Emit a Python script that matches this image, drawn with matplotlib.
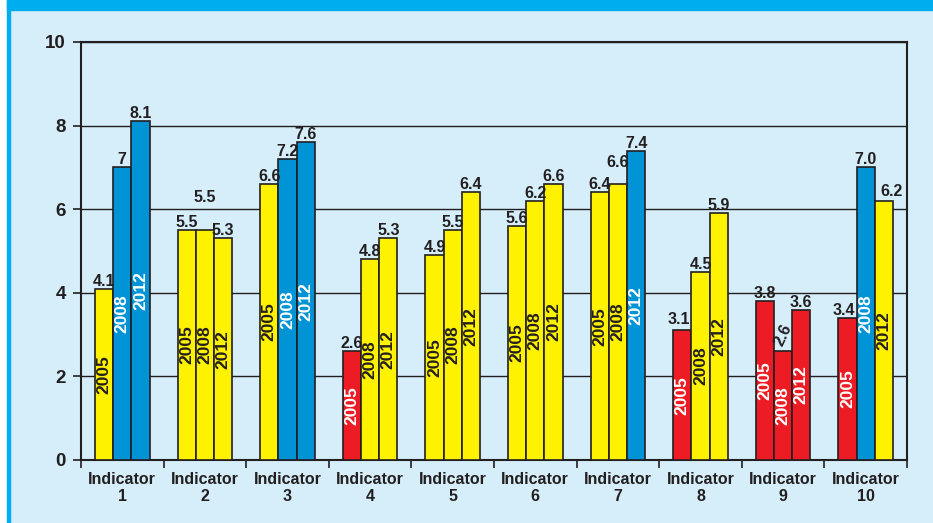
import matplotlib.pyplot as plt
import numpy as np
from matplotlib.patches import Rectangle

# data
categories = [f"Indicator\n{i}" for i in range(1, 11)]
years = ["2005", "2008", "2012"]
v2005 = [4.1, 5.5, 6.6, 2.6, 4.9, 5.6, 6.4, 3.1, 3.8, 3.4]
v2008 = [7.0, 5.5, 7.2, 4.8, 5.5, 6.2, 6.6, 4.5, 2.6, 7.0]
v2012 = [8.1, 5.3, 7.6, 5.3, 6.4, 6.6, 7.4, 5.9, 3.6, 6.2]
l2005 = ["4.1", "5.5", "6.6", "2.6", "4.9", "5.6", "6.4", "3.1", "3.8", "3.4"]
l2008 = ["7", "5.5", "7.2", "4.8", "5.5", "6.2", "6.6", "4.5", "2.6", "7.0"]
l2012 = ["8.1", "5.3", "7.6", "5.3", "6.4", "6.6", "7.4", "5.9", "3.6", "6.2"]
g2005 = ["mid", "mid", "mid", "low", "mid", "mid", "mid", "low", "low", "low"]
g2008 = ["high", "mid", "high", "mid", "mid", "mid", "mid", "mid", "low", "high"]
g2012 = ["high", "mid", "high", "mid", "mid", "mid", "high", "mid", "low", "mid"]

values = [v2005, v2008, v2012]
labels = [l2005, l2008, l2012]
grades = [g2005, g2008, g2012]

fill = {"high": "#0093d6", "mid": "#fff200", "low": "#ed1c24"}
year_color = {"high": "white", "mid": "#231f20", "low": "white"}
dark = "#231f20"
bg = "#d5eefa"
cyan = "#00aeef"

# label nudges (group, series): (dx, dy, rotation)
nudge = {
    (1, 1): (0.0, 0.6, 0),
    (6, 1): (0.0, 0.33, 0),
    (8, 1): (0.0, 0.4, 65),
    (9, 2): (0.09, 0.05, 0),
    (7, 0): (-0.04, 0.08, 0),
    (9, 0): (-0.05, 0.0, 0),
}

plt.rcParams['font.family'] = ['Liberation Sans', 'DejaVu Sans']
plt.rcParams['font.weight'] = 'bold'

fig = plt.figure(figsize=(9.33, 5.23), dpi=100, facecolor=bg)
W, H = 933, 523
# frame decoration
fig.patches.append(Rectangle((0, 0), 7 / W, 1, transform=fig.transFigure, color="white", zorder=0))
fig.patches.append(Rectangle((7 / W, 0), 3 / W, 1, transform=fig.transFigure, color=cyan, zorder=0))
fig.patches.append(Rectangle((7 / W, 1 - 10 / H), 1, 10 / H, transform=fig.transFigure, color=cyan, zorder=0))

ax = fig.add_axes([81 / W, 1 - 460 / H, (907 - 81) / W, (460 - 42) / H])
ax.set_facecolor("none")

x = np.arange(len(categories))
bw = 0.22
for s in range(3):
    xs = x + (s - 1) * bw
    cols = [fill[g] for g in grades[s]]
    ax.bar(xs, values[s], width=bw, color=cols, edgecolor=dark, linewidth=1.2, zorder=3)
    for i in range(len(categories)):
        v = values[s][i]
        g = grades[s][i]
        ax.text(xs[i], v / 2, years[s], rotation=90, ha="center", va="center",
                fontsize=12.5, fontweight="bold", color=year_color[g], zorder=4)
        dx, dy, rot = nudge.get((i, s), (0.0, 0.0, 0))
        if rot:
            ax.text(xs[i] + dx, v + dy, labels[s][i], rotation=rot, ha="center", va="center",
                    fontsize=11.5, fontweight="bold", color=dark, zorder=4)
        else:
            ax.text(xs[i] + dx, v + dy, labels[s][i], ha="center", va="bottom",
                    fontsize=11.5, fontweight="bold", color=dark, zorder=4)

ax.set_xlim(-0.5, len(categories) - 0.5)
ax.set_ylim(0, 10)
ax.set_yticks([0, 2, 4, 6, 8, 10])
ax.yaxis.grid(True, color=dark, linewidth=1.0, zorder=1)
ax.set_axisbelow(True)

ax.set_xticks(x)
ax.set_xticklabels(categories, fontsize=11.5, fontweight="bold", color=dark, linespacing=1.15)
ax.set_xticks(np.arange(len(categories) + 1) - 0.5, minor=True)
ax.tick_params(axis="x", which="major", length=0, pad=9)
ax.tick_params(axis="x", which="minor", length=6, width=1.2, color=dark, direction="out")
ax.tick_params(axis="y", length=6, width=1.2, color=dark, pad=5, labelsize=13.5, labelcolor=dark)
for lab in ax.get_yticklabels():
    lab.set_fontweight("bold")

for side in ["left", "bottom", "right", "top"]:
    ax.spines[side].set_color(dark)
    ax.spines[side].set_linewidth(1.5)

fig.savefig("out.png", dpi=100, facecolor=bg)
